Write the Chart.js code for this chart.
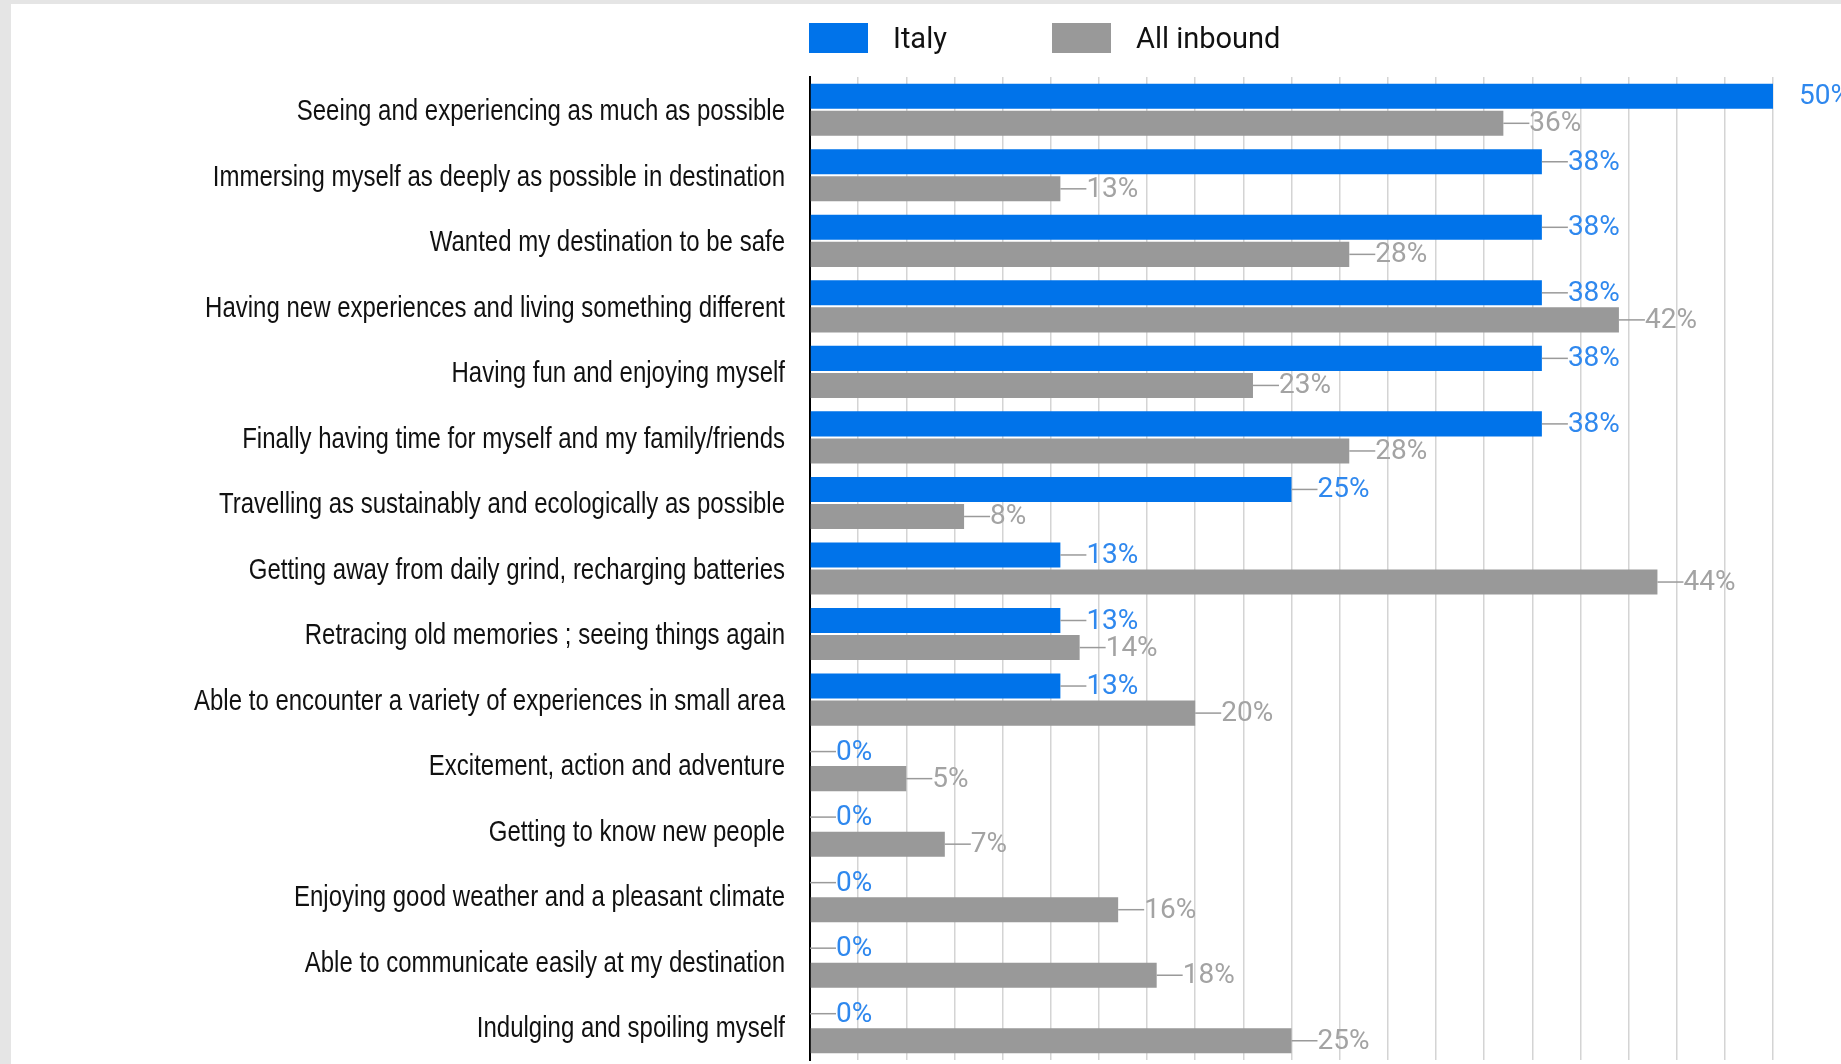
<!DOCTYPE html>
<html>
<head>
<meta charset="utf-8">
<title>Travel motivations</title>
<script src="https://cdn.jsdelivr.net/npm/chart.js@4.4.1/dist/chart.umd.min.js"></script>
<style>
    html, body { margin: 0; padding: 0; background: #e5e5e5; overflow: hidden; }
    #wrap {
        position: absolute; left: 11px; top: 4px;
        width: 1830px; height: 1060px; background: #fff;
    }
</style>
</head>
<body>
<div id="wrap"><canvas id="motivesChart"></canvas></div>
<script>
var categories = [
    'Seeing and experiencing as much as possible',
    'Immersing myself as deeply as possible in destination',
    'Wanted my destination to be safe',
    'Having new experiences and living something different',
    'Having fun and enjoying myself',
    'Finally having time for myself and my family/friends',
    'Travelling as sustainably and ecologically as possible',
    'Getting away from daily grind, recharging batteries',
    'Retracing old memories ; seeing things again',
    'Able to encounter a variety of experiences in small area',
    'Excitement, action and adventure',
    'Getting to know new people',
    'Enjoying good weather and a pleasant climate',
    'Able to communicate easily at my destination',
    'Indulging and spoiling myself'
];
var italyValues   = [50, 38, 38, 38, 38, 38, 25, 13, 13, 13, 0, 0, 0, 0, 0];
var inboundValues = [36, 13, 28, 42, 23, 28, 8, 44, 14, 20, 5, 7, 16, 18, 25];
var seriesNames = ['Italy', 'All inbound'];

var barColors = ['#0073ea', '#999999'];
var labelColors = ['#2f88ee', '#a3a3a3'];

document.addEventListener('DOMContentLoaded', function() {

    // legend drawn above the plot, starting at the value axis
    var topLegend = {
        id: 'topLegend',
        afterDraw: function(chart) {
            var ctx = chart.ctx;
            var x = chart.chartArea.left - 1;
            var positions = [x, x + 243];
            ctx.save();
            ctx.font = '29px Roboto';
            ctx.textBaseline = 'middle';
            chart.data.datasets.forEach(function(ds, i) {
                ctx.fillStyle = ds.backgroundColor;
                ctx.fillRect(positions[i], 19, 59, 30);
                ctx.fillStyle = '#111';
                ctx.fillText(ds.label, positions[i] + 84, 37);
            });
            ctx.restore();
        }
    };

    // category names, narrowed horizontally
    var categoryLabels = {
        id: 'categoryLabels',
        afterDraw: function(chart) {
            var ctx = chart.ctx;
            var yScale = chart.scales.y;
            var right = chart.chartArea.left - 25;
            ctx.save();
            ctx.font = '30px "Liberation Sans", Arial, sans-serif';
            ctx.fillStyle = '#111';
            ctx.textAlign = 'right';
            ctx.textBaseline = 'middle';
            chart.data.labels.forEach(function(label, i) {
                ctx.save();
                ctx.translate(right, yScale.getPixelForValue(i) + 2);
                ctx.scale(0.8, 1);
                ctx.fillText(label, 0, 0);
                ctx.restore();
            });
            ctx.restore();
        }
    };

    // value labels with a short leader line after each bar
    var valueLabels = {
        id: 'valueLabels',
        afterDatasetsDraw: function(chart) {
            var ctx = chart.ctx;
            var area = chart.chartArea;
            ctx.save();
            ctx.font = '28px Roboto';
            ctx.textBaseline = 'middle';
            chart.data.datasets.forEach(function(ds, i) {
                var meta = chart.getDatasetMeta(i);
                meta.data.forEach(function(bar, j) {
                    var end = bar.x;
                    var lineEnd = Math.min(end + 26, area.right);
                    if (lineEnd > end) {
                        ctx.strokeStyle = '#9a9a9a';
                        ctx.lineWidth = 1.5;
                        ctx.beginPath();
                        ctx.moveTo(end, bar.y);
                        ctx.lineTo(lineEnd, bar.y);
                        ctx.stroke();
                    }
                    ctx.fillStyle = labelColors[i];
                    ctx.fillText(ds.data[j] + '%', end + 26, bar.y + 1);
                });
            });
            ctx.restore();
        }
    };

    new Chart(document.getElementById('motivesChart'), {
        type: 'bar',
        data: {
            labels: categories,
            datasets: [{
                label: seriesNames[0],
                data: italyValues,
                backgroundColor: barColors[0],
                categoryPercentage: 0.826,
                barPercentage: 0.926
            }, {
                label: seriesNames[1],
                data: inboundValues,
                backgroundColor: barColors[1],
                categoryPercentage: 0.826,
                barPercentage: 0.926
            }]
        },
        options: {
            responsive: true,
            maintainAspectRatio: false,
            animation: false,
            indexAxis: 'y',
            layout: { padding: { left: 0, top: 73, right: 68, bottom: 4 } },
            plugins: {
                legend: { display: false },
                tooltip: { enabled: false }
            },
            scales: {
                x: {
                    min: 0,
                    max: 50,
                    ticks: { display: false, stepSize: 2.5 },
                    grid: { color: '#d4d4d4', lineWidth: 1.5, drawTicks: false },
                    border: { display: false },
                    afterFit: function(scale) { scale.height = 0; }
                },
                y: {
                    grid: { display: false, drawTicks: false },
                    border: { display: true, color: '#000', width: 2 },
                    ticks: { display: false },
                    afterFit: function(scale) { scale.width = 799; }
                }
            }
        },
        plugins: [valueLabels, categoryLabels, topLegend]
    });
});
</script>
</body>
</html>
